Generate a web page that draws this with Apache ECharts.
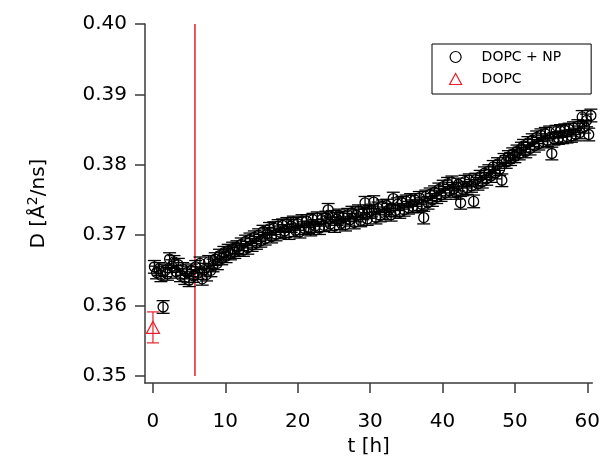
<!DOCTYPE html>
<html><head><meta charset="utf-8">
<script src="https://cdn.jsdelivr.net/npm/echarts@6/dist/echarts.min.js"></script>
<style>html,body{margin:0;padding:0;background:#fff}#c{width:603px;height:462px}</style>
</head><body><div id="c"></div>
<script>
const times = [
  0.2,0.5,0.8,1.1,1.4,1.7,2.0,2.3,2.6,2.9,
  3.2,3.5,3.8,4.1,4.4,4.7,5.0,5.3,5.6,5.9,
  6.2,6.5,6.8,7.1,7.4,7.7,8.0,8.3,8.6,8.9,
  9.2,9.5,9.8,10.1,10.4,10.7,11.0,11.3,11.6,11.9,
  12.2,12.5,12.8,13.1,13.4,13.7,14.0,14.3,14.6,14.9,
  15.2,15.5,15.8,16.1,16.4,16.7,17.0,17.3,17.6,17.9,
  18.2,18.5,18.8,19.1,19.4,19.7,20.0,20.3,20.6,20.9,
  21.2,21.5,21.8,22.1,22.4,22.7,23.0,23.3,23.6,23.9,
  24.2,24.5,24.8,25.1,25.4,25.7,26.0,26.3,26.6,26.9,
  27.2,27.5,27.8,28.1,28.4,28.7,29.0,29.3,29.6,29.9,
  30.2,30.5,30.8,31.1,31.4,31.7,32.0,32.3,32.6,32.9,
  33.2,33.5,33.8,34.1,34.4,34.7,35.0,35.3,35.6,35.9,
  36.2,36.5,36.8,37.1,37.4,37.7,38.0,38.3,38.6,38.9,
  39.2,39.5,39.8,40.1,40.4,40.7,41.0,41.3,41.6,41.9,
  42.2,42.5,42.8,43.1,43.4,43.7,44.0,44.3,44.6,44.9,
  45.2,45.5,45.8,46.1,46.4,46.7,47.0,47.3,47.6,47.9,
  48.2,48.5,48.8,49.1,49.4,49.7,50.0,50.3,50.6,50.9,
  51.2,51.5,51.8,52.1,52.4,52.7,53.0,53.3,53.6,53.9,
  54.2,54.5,54.8,55.1,55.4,55.7,56.0,56.3,56.6,56.9,
  57.2,57.5,57.8,58.1,58.4,58.7,59.0,59.3,59.6,59.9,
  60.2,60.5
];
const dopcNP = [
  0.3655,0.3647,0.3652,0.3643,0.3598,0.3650,0.3645,0.3666,0.3656,0.3662,
  0.3648,0.3658,0.3643,0.3652,0.3639,0.3647,0.3636,0.3650,0.3642,0.3655,
  0.3646,0.3660,0.3638,0.3651,0.3644,0.3662,0.3650,0.3657,0.3666,0.3660,
  0.3671,0.3667,0.3675,0.3670,0.3678,0.3674,0.3681,0.3676,0.3683,0.3679,
  0.3687,0.3679,0.3691,0.3682,0.3694,0.3686,0.3697,0.3689,0.3700,0.3692,
  0.3705,0.3695,0.3702,0.3709,0.3698,0.3710,0.3701,0.3713,0.3704,0.3714,
  0.3706,0.3716,0.3703,0.3713,0.3718,0.3707,0.3716,0.3705,0.3720,0.3710,
  0.3720,0.3711,0.3708,0.3722,0.3713,0.3724,0.3710,0.3722,0.3714,0.3725,
  0.3736,0.3716,0.3726,0.3713,0.3723,0.3728,0.3717,0.3725,0.3715,0.3729,
  0.3722,0.3732,0.3718,0.3728,0.3734,0.3721,0.3731,0.3746,0.3723,0.3733,
  0.3735,0.3747,0.3725,0.3738,0.3728,0.3741,0.3731,0.3742,0.3736,0.3729,
  0.3752,0.3735,0.3744,0.3733,0.3746,0.3736,0.3748,0.3739,0.3750,0.3741,
  0.3750,0.3741,0.3753,0.3744,0.3725,0.3755,0.3746,0.3758,0.3750,0.3761,
  0.3754,0.3765,0.3757,0.3769,0.3760,0.3773,0.3763,0.3775,0.3766,0.3760,
  0.3772,0.3746,0.3765,0.3776,0.3767,0.3778,0.3770,0.3748,0.3779,0.3773,
  0.3783,0.3776,0.3788,0.3780,0.3791,0.3784,0.3797,0.3789,0.3801,0.3794,
  0.3778,0.3807,0.3804,0.3811,0.3808,0.3815,0.3812,0.3819,0.3816,0.3823,
  0.3827,0.3819,0.3831,0.3823,0.3835,0.3827,0.3839,0.3830,0.3842,0.3833,
  0.3844,0.3835,0.3846,0.3816,0.3837,0.3847,0.3838,0.3848,0.3839,0.3849,
  0.3840,0.3850,0.3841,0.3852,0.3843,0.3855,0.3846,0.3868,0.3854,0.3863,
  0.3843,0.3870
];
const npErr = 0.0009;
const dopcT = [0];
const dopcD = [0.3569];
const dopcErr = [0.0022];
const redLineT = 5.8;
const redLineRange = [0.35, 0.40];
const xTicks = [0, 10, 20, 30, 40, 50, 60];
const yTicks = [0.35, 0.36, 0.37, 0.38, 0.39, 0.40];

const FONT = 'DejaVu Sans';
const AX = '#3a3a3a';

function errRender(color, capHalf, lw) {
  return function (params, api) {
    const x = api.value(0), y = api.value(1), e = api.value(2);
    const top = api.coord([x, y + e]), bot = api.coord([x, y - e]);
    const style = { stroke: color, lineWidth: lw };
    return { type: 'group', children: [
      { type: 'line', shape: { x1: top[0], y1: top[1], x2: bot[0], y2: bot[1] }, style: style },
      { type: 'line', shape: { x1: top[0] - capHalf, y1: top[1], x2: top[0] + capHalf, y2: top[1] }, style: style },
      { type: 'line', shape: { x1: bot[0] - capHalf, y1: bot[1], x2: bot[0] + capHalf, y2: bot[1] }, style: style }
    ]};
  };
}

const npPoints = times.map((t, i) => [t, dopcNP[i]]);
const npErrData = times.map((t, i) => [t, dopcNP[i], npErr]);
const dopcPoints = dopcT.map((t, i) => [t, dopcD[i]]);
const dopcErrData = dopcT.map((t, i) => [t, dopcD[i], dopcErr[i]]);

const chart = echarts.init(document.getElementById('c'), null, { renderer: 'canvas' });
chart.setOption({
  animation: false,
  backgroundColor: '#fff',
  grid: { left: 145, right: 10, top: 24, bottom: 79 },
  legend: {
    left: 432, top: 44,
    orient: 'vertical',
    itemWidth: 12, itemHeight: 11, itemGap: 8,
    padding: [6, 30, 8, 17],
    borderColor: '#000', borderWidth: 1, borderRadius: 0,
    textStyle: { fontFamily: FONT, fontSize: 14, color: '#000', padding: [0, 0, 0, 15] },
    data: [
      { name: 'DOPC + NP', icon: 'circle', itemStyle: { color: 'transparent', borderColor: '#000', borderWidth: 1.2 } },
      { name: 'DOPC', icon: 'triangle', itemStyle: { color: 'transparent', borderColor: '#e8202a', borderWidth: 1.2 } }
    ]
  },
  xAxis: {
    type: 'value', min: -1.1, max: 60.7,
    name: 't [h]', nameLocation: 'middle', nameGap: 52,
    nameTextStyle: { fontFamily: FONT, fontSize: 20, color: '#000' },
    splitLine: { show: false },
    axisLine: { onZero: false, lineStyle: { color: AX, width: 1.5 } },
    axisTick: { customValues: xTicks, length: 10, lineStyle: { color: AX, width: 1.5 } },
    axisLabel: { customValues: xTicks, margin: 29, fontFamily: FONT, fontSize: 20, color: '#000' }
  },
  yAxis: {
    type: 'value', min: 0.349, max: 0.40,
    name: 'D [Å{sup|2}/ns]', nameLocation: 'middle', nameGap: 93,
    nameTextStyle: { fontFamily: FONT, fontSize: 20, color: '#000',
      rich: { sup: { fontFamily: FONT, fontSize: 14, color: '#000', padding: [0, 0, 12, 0] } } },
    splitLine: { show: false },
    axisLine: { show: true, onZero: false, lineStyle: { color: AX, width: 1.5 } },
    axisTick: { show: true, customValues: yTicks, length: 10, lineStyle: { color: AX, width: 1.5 } },
    axisLabel: { customValues: yTicks, margin: 18, fontFamily: FONT, fontSize: 20, color: '#000',
      formatter: v => v.toFixed(2) }
  },
  series: [
    {
      name: 'redline', type: 'line', silent: true, symbol: 'none',
      data: [[redLineT, redLineRange[0]], [redLineT, redLineRange[1]]],
      lineStyle: { color: '#e8202a', width: 1.5 }, z: 1
    },
    {
      name: 'errNP', type: 'custom', renderItem: errRender('#000', 6.5, 1.3), data: npErrData,
      encode: { x: 0, y: 1 }, z: 2, silent: true
    },
    {
      name: 'DOPC + NP', type: 'scatter', data: npPoints, symbol: 'circle', symbolSize: 10,
      itemStyle: { color: 'transparent', borderColor: '#000', borderWidth: 1.3, opacity: 1 }, z: 3
    },
    {
      name: 'errDOPC', type: 'custom', renderItem: errRender('#e8202a', 6, 1.2), data: dopcErrData,
      encode: { x: 0, y: 1 }, z: 2, silent: true
    },
    {
      name: 'DOPC', type: 'scatter', data: dopcPoints, symbol: 'triangle', symbolSize: [13, 12],
      itemStyle: { color: 'transparent', borderColor: '#e8202a', borderWidth: 1.2, opacity: 1 }, z: 3
    }
  ]
});
</script>
</body></html>
